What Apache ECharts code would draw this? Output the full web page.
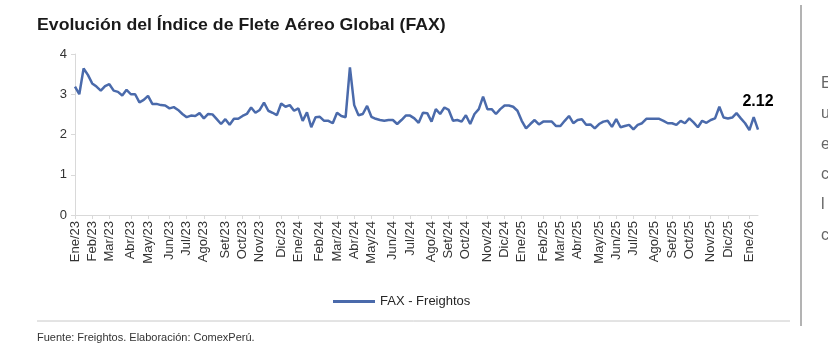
<!DOCTYPE html>
<html><head><meta charset="utf-8">
<script src="https://cdn.jsdelivr.net/npm/echarts@6/dist/echarts.min.js"></script>
<style>html,body{margin:0;padding:0;background:#fff}#c{width:828px;height:362px}</style>
</head><body><div id="c"></div>
<script>
// Weekly FAX values (USD/kg), first week of Jan 2023 to mid Jan 2026
const faxValues = [
3.19,3.0,3.64,3.48,3.27,3.19,3.09,3.2,3.25,3.09,3.06,2.97,3.11,3.0,3.0,2.8,2.86,2.96,2.76,2.76,2.73,2.72,2.65,2.68,2.61,2.51,2.43,2.47,2.46,2.53,2.40,2.51,2.50,2.38,2.26,2.38,2.24,2.39,2.39,2.46,2.51,2.67,2.54,2.61,2.79,2.59,2.54,2.48,
2.77,2.69,2.73,2.59,2.65,2.34,2.55,2.18,2.43,2.44,2.34,2.34,2.28,2.54,2.46,2.43,3.67,2.73,2.48,2.51,2.71,2.44,2.39,2.36,2.34,2.36,2.36,2.26,2.36,2.47,2.47,2.40,2.29,2.54,2.53,2.32,2.63,2.51,2.67,2.61,2.34,2.36,2.32,2.48,2.26,2.51,2.63,2.94,2.63,2.63,2.51,2.63,2.72,2.72,2.69,2.59,2.34,2.15,2.26,2.36,2.25,
2.32,2.32,2.32,2.21,2.21,2.34,2.46,2.28,2.36,2.38,2.24,2.25,2.15,2.26,2.32,2.34,2.19,2.38,2.18,2.21,2.24,2.13,2.24,2.28,2.39,2.39,2.39,2.39,2.34,2.28,2.28,2.24,2.34,2.28,2.40,2.30,2.18,2.34,2.29,2.36,2.40,2.69,2.42,2.40,2.42,2.53,2.40,2.28,2.11,2.43,2.12
];
const monthLabels = ['Ene/23','Feb/23','Mar/23','Abr/23','May/23','Jun/23','Jul/23','Ago/23','Set/23','Oct/23','Nov/23','Dic/23',
'Ene/24','Feb/24','Mar/24','Abr/24','May/24','Jun/24','Jul/24','Ago/24','Set/24','Oct/24','Nov/24','Dic/24',
'Ene/25','Feb/25','Mar/25','Abr/25','May/25','Jun/25','Jul/25','Ago/25','Set/25','Oct/25','Nov/25','Dic/25','Ene/26'];
const yTicks = [0,1,2,3,4];
const seriesName = 'FAX - Freightos';
const lastLabel = '2.12';

const DAY = 86400000;
const start = Date.UTC(2023,0,1);
const weeks = faxValues.map((v,i)=>{const d=new Date(start+i*7*DAY);return d.toISOString().slice(0,10);});
const labelAt = {};
monthLabels.forEach((lab,m)=>{
  const t = Date.UTC(2023,m,1);
  labelAt[Math.round((t-start)/DAY/7)] = lab;
});
const showIdx = (idx)=> labelAt[idx] !== undefined;

const seriesData = faxValues.map((v,i)=> i===faxValues.length-1 ? {value:v,label:{show:true,position:'top',distance:20,formatter:lastLabel,fontSize:16,fontWeight:'bold',color:'#000',fontFamily:'Liberation Sans'}} : v);

const FF = 'Liberation Sans';
const chart = echarts.init(document.getElementById('c'));
chart.setOption({
  animation:false,
  textStyle:{fontFamily:FF},
  grid:{left:75,right:70,top:54,bottom:147,containLabel:false},
  legend:{data:[seriesName],left:328,top:290,icon:'rect',itemWidth:42,itemHeight:3,itemGap:6,
    textStyle:{fontSize:13,color:'#262626',fontFamily:FF}},
  xAxis:{type:'category',data:weeks,boundaryGap:false,
    axisLine:{lineStyle:{color:'#d9d9d9',width:1}},
    axisTick:{show:true,interval:showIdx,length:4,lineStyle:{color:'#d9d9d9'}},
    axisLabel:{interval:showIdx,rotate:90,margin:6,fontSize:13,color:'#333',
      formatter:(val,idx)=>labelAt[idx]||''},
    splitLine:{show:false}},
  yAxis:{type:'value',min:yTicks[0],max:yTicks[yTicks.length-1],interval:1,
    axisLine:{show:true,lineStyle:{color:'#d9d9d9'}},
    axisTick:{show:true,length:4,lineStyle:{color:'#d9d9d9'}},
    axisLabel:{fontSize:13,color:'#333',margin:8},
    splitLine:{show:false}},
  series:[{name:seriesName,type:'line',data:seriesData,symbol:'circle',symbolSize:0,showSymbol:true,
    lineStyle:{color:'#4a6aab',width:2.5},itemStyle:{color:'#4a6aab'}}],
  graphic:[
    {type:'text',x:37,y:17,scaleX:1.04,style:{text:'Evolución del Índice de Flete Aéreo Global (FAX)',fontSize:17,fontWeight:'bold',fill:'#1a1a1a',fontFamily:FF}},
    {type:'line',shape:{x1:37,y1:321,x2:790,y2:321},style:{stroke:'#c8c8c8',lineWidth:1}},
    {type:'line',shape:{x1:801,y1:5,x2:801,y2:326},style:{stroke:'#9a9a9a',lineWidth:1.5}},
    {type:'text',left:37,top:332,style:{text:'Fuente: Freightos. Elaboración: ComexPerú.',fontSize:11,fill:'#333',fontFamily:FF}},
    {type:'text',x:821,y:76,style:{text:'E',fontSize:16,fill:'#666',fontFamily:FF}},
    {type:'text',x:821,y:106,style:{text:'u',fontSize:16,fill:'#666',fontFamily:FF}},
    {type:'text',x:821,y:137,style:{text:'e',fontSize:16,fill:'#666',fontFamily:FF}},
    {type:'text',x:821,y:167,style:{text:'c',fontSize:16,fill:'#666',fontFamily:FF}},
    {type:'text',x:821,y:197,style:{text:'l',fontSize:16,fill:'#666',fontFamily:FF}},
    {type:'text',x:821,y:228,style:{text:'c',fontSize:16,fill:'#666',fontFamily:FF}}
  ]
});
</script></body></html>
